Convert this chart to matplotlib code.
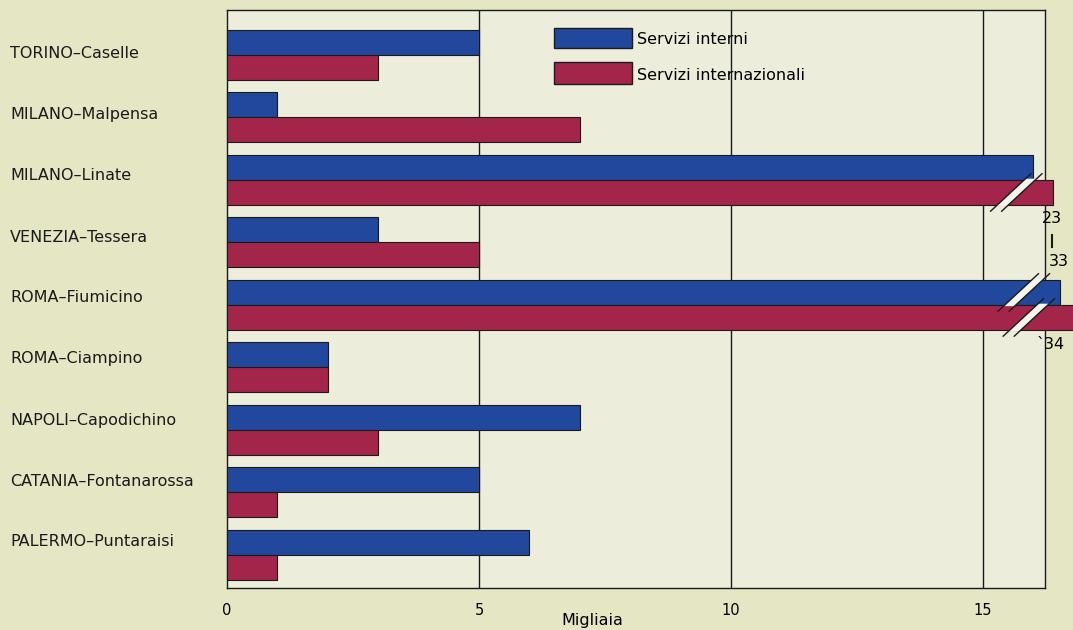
import matplotlib.pyplot as plt
import matplotlib.patches as patches
import numpy as np

plt.rcParams['font.family'] = ['DejaVu Sans']

airports = ["TORINO\u2013Caselle", "MILANO\u2013Malpensa", "MILANO\u2013Linate",
            "VENEZIA\u2013Tessera", "ROMA\u2013Fiumicino", "ROMA\u2013Ciampino",
            "NAPOLI\u2013Capodichino", "CATANIA\u2013Fontanarossa", "PALERMO\u2013Puntaraisi"]
interni = [5, 1, 16, 3, 33, 2, 7, 5, 6]
internazionali = [3, 7, 23, 5, 34, 2, 3, 1, 1]
xticks = [0, 5, 10, 15]

blue = '#22489e'
red = '#a3264a'
ink = '#1a1a1a'
xmax = 16.23
# how far a broken bar pokes past the frame (style only)
overhang = {('int', 4): 0.3, ('est', 2): 0.15, ('est', 4): 1.0}

fig = plt.figure(figsize=(10.73, 6.3), dpi=100)
fig.patch.set_facecolor('#e5e6c4')
ax = fig.add_axes([227 / 1073, 42 / 630, (1045 - 227) / 1073, 578 / 630])
ax.set_facecolor('#eceedb')

y = np.arange(len(airports))
h = 0.4
for key, vals, off, col in (('int', interni, -h / 2, blue), ('est', internazionali, h / 2, red)):
    for i, v in enumerate(vals):
        w = v if v <= xmax else xmax + overhang[(key, i)]
        ax.barh(y[i] + off, w, height=h, color=col, edgecolor=ink,
                linewidth=0.8, zorder=3, clip_on=False)
        if v > xmax:
            # white break stripe
            yc = y[i] + off
            x0 = 15.4 if key == 'int' else 15.5
            if i == 2:
                x0 = 15.25
            sl = 0.6
            poly = patches.Polygon([[x0, yc + h / 2 + 0.02], [x0 + 0.22, yc + h / 2 + 0.02],
                                    [x0 + 0.22 + sl, yc - h / 2 - 0.02], [x0 + sl, yc - h / 2 - 0.02]],
                                   closed=True, facecolor='#f4f4ec', edgecolor='none',
                                   zorder=4, clip_on=False)
            ax.add_patch(poly)
            for dx in (0, 0.22):
                ax.plot([x0 + dx - 0.1, x0 + dx + sl + 0.1],
                        [yc + h / 2 + 0.1, yc - h / 2 - 0.1],
                        color=ink, lw=1, zorder=5, clip_on=False)

ax.set_xlim(0, xmax)
ax.set_ylim(len(airports) - 1 + 0.53, -0.72)
for xv in xticks[1:]:
    ax.axvline(xv, color=ink, lw=1, zorder=1)
ax.set_xticks(xticks)
ax.set_xticklabels([str(t) for t in xticks], fontsize=10.5)
ax.tick_params(axis='x', length=0, pad=11)
ax.set_yticks([])
for s in ax.spines.values():
    s.set_color(ink)
    s.set_linewidth(1)

for i, name in enumerate(airports):
    fig.text(10 / 1073, 1 - (54 + 61.0 * i) / 630, name,
             fontsize=11.5, va='center', ha='left', color=ink)

fig.text(592 / 1073, 1 - 621 / 630, "Migliaia", fontsize=11.5, ha='center', va='center')

# labels for broken bars
ax.text(16.37, 2.62, str(internazionali[2]), fontsize=11.5, ha='center', va='center', clip_on=False)
ax.plot([16.37, 16.37], [2.88, 3.08], color=ink, lw=1.5, clip_on=False)
ax.text(16.5, 3.3, str(interni[4]), fontsize=11.5, ha='center', va='center', clip_on=False)
ax.text(16.35, 4.63, "`" + str(internazionali[4]), fontsize=11.5, ha='center', va='center', clip_on=False)

# legend
for lab, col, yt, yb, ty in (("Servizi interni", blue, 28, 48, 40),
                             ("Servizi internazionali", red, 62, 84, 75)):
    fig.patches.append(patches.Rectangle((554 / 1073, 1 - yb / 630), 78 / 1073, (yb - yt) / 630,
                                         facecolor=col, edgecolor=ink, lw=1,
                                         transform=fig.transFigure, zorder=6))
    fig.text(637 / 1073, 1 - ty / 630, lab, fontsize=11.5, va='center', ha='left', zorder=7)

fig.savefig('out.png', dpi=100, facecolor=fig.get_facecolor())
